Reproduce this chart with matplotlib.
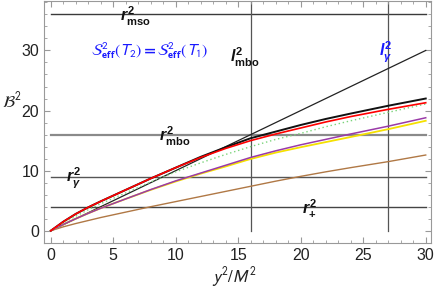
import matplotlib
matplotlib.use("Agg")
import matplotlib.pyplot as plt
import numpy as np
from matplotlib.ticker import MultipleLocator

plt.rcParams['font.family'] = ['Liberation Sans', 'DejaVu Sans']
plt.rcParams['mathtext.fontset'] = 'custom'
plt.rcParams['mathtext.rm'] = 'Liberation Sans:bold'
plt.rcParams['mathtext.it'] = 'Liberation Sans:italic:bold'
plt.rcParams['mathtext.bf'] = 'Liberation Sans:bold'

# ---- data ----
x_curve = [0, 1, 2, 3, 4, 6, 8, 10, 12, 14, 16, 18, 20, 22, 24, 27, 30]
red_y = [0, 1.5, 2.8, 3.9, 4.9, 6.8, 8.7, 10.5, 12.2, 13.7, 15.0, 16.1, 17.1, 18.1, 19.0, 20.2, 21.3]
black_y = [0, 1.5, 2.8, 3.9, 4.9, 6.8, 8.7, 10.5, 12.3, 13.9, 15.4, 16.5, 17.6, 18.6, 19.5, 20.8, 22.0]
green_y = [0, 1.3, 2.4, 3.5, 4.5, 6.3, 8.1, 9.8, 11.3, 12.7, 14.0, 15.2, 16.2, 17.3, 18.3, 19.7, 21.1]
purple_y = [0, 1.05, 2.0, 2.9, 3.75, 5.3, 6.85, 8.3, 9.6, 10.9, 12.2, 13.3, 14.3, 15.2, 16.1, 17.4, 18.8]
yellow_y = [0, 1.05, 2.0, 2.9, 3.75, 5.3, 6.8, 8.2, 9.5, 10.7, 11.95, 13.0, 13.9, 14.75, 15.6, 16.9, 18.3]
brown_y = [0, 0.65, 1.2, 1.7, 2.2, 3.1, 4.0, 4.85, 5.7, 6.55, 7.4, 8.25, 9.05, 9.8, 10.5, 11.5, 12.6]
line_x = [0, 30]
line_y = [0, 30]

h_levels = [36, 16, 9, 4]          # r_mso^2, r_mbo^2, r_gamma^2, r_+^2
h_labels = [r'$r^{2}_{\mathrm{mso}}$', r'$r^{2}_{\mathrm{mbo}}$', r'$r^{2}_{\gamma}$', r'$r^{2}_{+}$']
h_label_x = [6.8, 9.9, 1.8, 20.7]
v_levels = [16, 27]                # l_mbo^2, l_gamma^2
x_ticks = [0, 5, 10, 15, 20, 25, 30]
y_ticks = [0, 10, 20, 30]

fig = plt.figure(figsize=(4.36, 2.89), dpi=100)
ax = fig.add_axes([0.101, 0.159, 0.8875, 0.839])

h_colors = ['#3a3a3a', '#8a8a8a', '#555555', '#444444']
h_widths = [1.0, 1.6, 1.0, 1.0]
for lv, c, w in zip(h_levels, h_colors, h_widths):
    ax.plot([0, 30], [lv, lv], color=c, lw=w, zorder=1)
for vx in v_levels:
    ax.plot([vx, vx], [0, 40], color='#555555', lw=0.9, zorder=1)

ax.plot(line_x, line_y, color='#222222', lw=0.9, zorder=3)
ax.plot(x_curve, brown_y, color='#b07845', lw=1.0, zorder=3)
ax.plot(x_curve, yellow_y, color='#f5e000', lw=1.3, zorder=3)
ax.plot(x_curve, purple_y, color='#9a3aa8', lw=1.1, zorder=4)
ax.plot(x_curve, green_y, color='#7ad47a', lw=1.0, ls=(0, (1, 2)), zorder=4)
ax.plot(x_curve, black_y, color='#111111', lw=1.4, zorder=3)
ax.plot(x_curve, red_y, color='#ff0000', lw=1.2, zorder=4)

for lab, lx, lv in zip(h_labels, h_label_x, h_levels):
    ax.text(lx, lv - 0.3, lab, fontsize=11.5, ha='center', va='center', color='#111111', zorder=5)

ax.text(15.5, 28.8, r'$l^{2}_{\mathrm{mbo}}$', fontsize=11.5, ha='center', va='center', color='#111111')
ax.text(26.8, 29.6, r'$l^{2}_{\gamma}$', fontsize=11.5, ha='center', va='center', color='#1a1aff')
ax.text(7.9, 29.9, r'$\mathcal{S}^{2}_{\mathbf{eff}}(T_{2})\mathbf{=}\mathcal{S}^{2}_{\mathbf{eff}}(T_{1})$',
        fontsize=11.5, ha='center', va='center', color='#1a1aff', math_fontfamily='stixsans')

ax.set_xlim(-0.54, 30.42)
ax.set_ylim(-2.05, 38.3)
ax.set_xticks(x_ticks)
ax.set_yticks(y_ticks)
ax.xaxis.set_minor_locator(MultipleLocator(1))
ax.yaxis.set_minor_locator(MultipleLocator(2))
ax.tick_params(which='both', direction='in', top=True, right=True, colors='#999999',
               labelcolor='#222222', labelsize=11.5)
ax.tick_params(which='major', length=4)
ax.tick_params(which='minor', length=2)
ax.tick_params(top=True, labeltop=False, right=True, labelright=False)
for s in ax.spines.values():
    s.set_color('#999999')
    s.set_linewidth(0.8)

fig.text(235 / 436, 1 - 277 / 289, r'$y^{2}/M^{2}$', fontsize=12, ha='center', va='center',
         color='#222222', math_fontfamily='stixsans')
fig.text(12 / 436, 1 - 100 / 289, r'$\mathcal{B}^{2}$', fontsize=12, ha='center', va='center',
         color='#222222', math_fontfamily='stixsans')

fig.savefig('out.png', dpi=100)
